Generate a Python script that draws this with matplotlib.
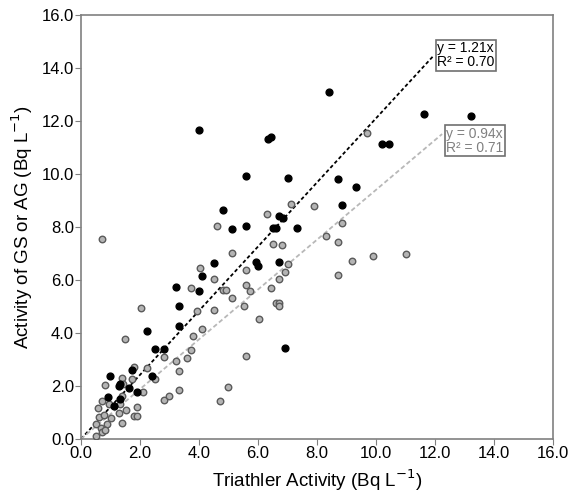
import matplotlib.pyplot as plt
import numpy as np

plt.rcParams['font.family'] = ['Liberation Sans', 'DejaVu Sans']

# GS series (black)
gs_x = [8.41, 4.0, 6.34, 6.44, 11.63, 13.22, 10.2, 10.44, 5.59, 7.02, 8.71, 9.32,
        8.85, 4.81, 6.71, 6.85, 5.12, 5.59, 6.51, 6.61, 7.32, 4.51, 5.93, 6.0,
        6.71, 4.1, 3.22, 4.0, 3.32, 6.92, 2.24, 3.32, 2.51, 2.81, 1.73, 0.98,
        2.41, 1.32, 1.29, 1.63, 1.9, 0.92, 1.32, 1.12]
gs_y = [13.1, 11.66, 11.32, 11.4, 12.26, 12.19, 11.13, 11.13, 9.92, 9.85, 9.81, 9.51,
        8.83, 8.64, 8.42, 8.34, 7.92, 8.04, 7.96, 7.96, 7.96, 6.64, 6.68, 6.53,
        6.68, 6.15, 5.74, 5.58, 5.02, 3.43, 4.08, 4.26, 3.4, 3.4, 2.6, 2.38,
        2.38, 2.07, 2.0, 1.92, 1.77, 1.58, 1.51, 1.25]

# AG series (grey)
ag_x = [9.7, 7.12, 6.31, 4.6, 7.9, 0.71, 6.51, 6.81, 8.85, 8.31, 8.71, 5.12,
        9.9, 11.02, 9.19, 7.02, 6.92, 8.71, 4.03, 5.59, 4.51, 6.71, 5.59, 6.44,
        3.73, 4.81, 4.92, 5.73, 5.12, 6.61, 6.71, 6.71, 6.03, 2.03, 3.93, 4.51,
        5.53, 4.1, 3.8, 1.49, 3.73, 2.81, 3.59, 5.59, 3.22, 2.24, 1.8, 3.32,
        2.51, 1.39, 3.32, 4.98, 4.71, 2.81, 2.98, 0.81, 2.1, 0.71, 0.58, 1.53,
        1.9, 1.8, 1.9, 1.29, 1.02, 0.61, 0.78, 1.39, 0.51, 0.88, 0.68, 0.71,
        0.51, 1.42, 1.39, 0.95, 1.32, 0.81, 1.73]
ag_y = [11.55, 8.87, 8.49, 8.04, 8.79, 7.55, 7.36, 7.32, 8.15, 7.66, 7.43, 7.02,
        6.91, 6.98, 6.72, 6.6, 6.3, 6.19, 6.45, 6.38, 6.04, 6.04, 5.81, 5.7,
        5.7, 5.62, 5.62, 5.58, 5.32, 5.13, 5.13, 5.02, 4.53, 4.94, 4.83, 4.87,
        5.02, 4.15, 3.89, 3.77, 3.36, 3.09, 3.06, 3.13, 2.94, 2.68, 2.72, 2.57,
        2.26, 2.3, 1.85, 1.96, 1.43, 1.47, 1.62, 2.04, 1.77, 1.43, 1.17, 1.09,
        1.21, 0.87, 0.87, 0.98, 0.79, 0.83, 0.9, 0.6, 0.57, 0.57, 0.42, 0.26,
        0.11, 2.07, 1.62, 1.32, 1.32, 0.34, 2.26]

gs_slope, gs_r2, gs_xmax = 1.21, 0.70, 11.93
ag_slope, ag_r2, ag_xmax = 0.94, 0.71, 12.24

fig = plt.figure(figsize=(5.68, 4.98), dpi=100)
ax = fig.add_axes([0.1426, 0.1185, 0.831, 0.8515])

ax.scatter(ag_x, ag_y, s=22, facecolor='#b4b4b4', edgecolor='#5a5a5a', linewidth=1.0, zorder=3)
ax.scatter(gs_x, gs_y, s=24, color='black', zorder=4)

xx = np.array([0, gs_xmax])
ax.plot(xx, gs_slope * xx, color='black', linestyle=(0, (2, 1.4)), linewidth=1.3, zorder=2)
xx = np.array([0, ag_xmax])
ax.plot(xx, ag_slope * xx, color='#b8b8b8', linestyle=(0, (2.5, 1.5)), linewidth=1.3, zorder=2)

box = dict(boxstyle='square,pad=0.1', facecolor='white', edgecolor='#707070', linewidth=1.2)
ax.text(12.07, 15.0, f'y = {gs_slope:.2f}x\nR² = {gs_r2:.2f}', fontsize=10, color='black',
        va='top', ha='left', linespacing=1.0, bbox=box)
ax.text(12.37, 11.78, f'y = {ag_slope:.2f}x\nR² = {ag_r2:.2f}', fontsize=10, color='#808080',
        va='top', ha='left', linespacing=1.0, bbox=box)

ax.set_xlim(0, 16)
ax.set_ylim(0, 16)
ticks = np.arange(0, 17, 2)
ax.set_xticks(ticks)
ax.set_yticks(ticks)
ax.set_xticklabels([f'{t:.1f}' for t in ticks], fontsize=12)
ax.set_yticklabels([f'{t:.1f}' for t in ticks], fontsize=12)
ax.tick_params(direction='out', length=4, color='#808080', pad=1)
for s in ax.spines.values():
    s.set_color('#808080')
    s.set_linewidth(1.2)

ax.set_xlabel('Triathler Activity (Bq L$^{-1}$)', fontsize=13.5, labelpad=5)
ax.set_ylabel('Activity of GS or AG (Bq L$^{-1}$)', fontsize=13.5, labelpad=5)

fig.savefig('out.png', dpi=100)
